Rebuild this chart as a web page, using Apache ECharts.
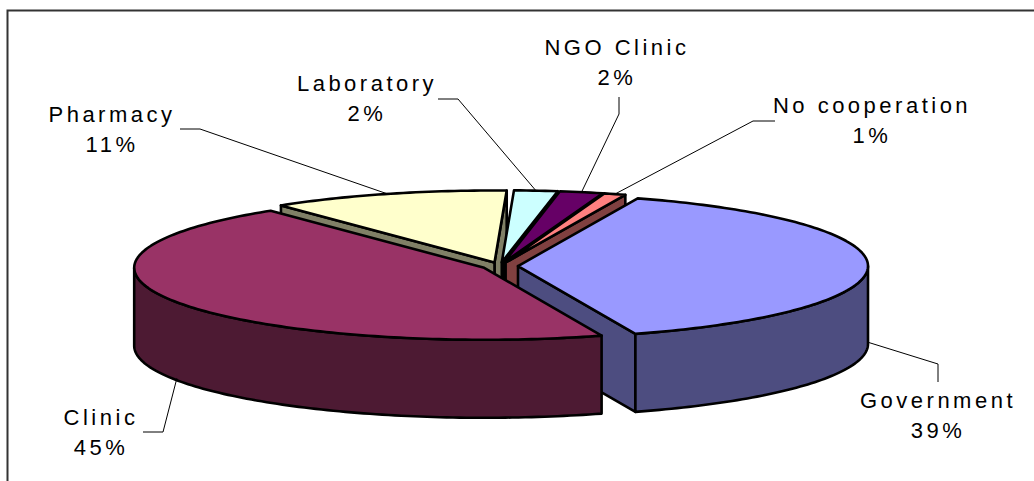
<!DOCTYPE html>
<html>
<head>
<meta charset="utf-8">
<script src="https://cdn.jsdelivr.net/npm/echarts@6/dist/echarts.min.js"></script>
<style>
  html, body { margin: 0; padding: 0; background: #fff; }
  #chart { width: 1034px; height: 481px; }
  #chart text { letter-spacing: 3.5px; }
</style>
</head>
<body>
<div id="chart"></div>
<script>
// Survey shares by partner type (percent)
const categories = ['Government', 'Clinic', 'Pharmacy', 'Laboratory', 'NGO Clinic', 'No cooperation'];
const shares = [39, 45, 11, 2, 2, 1];

// Face colours: top faces and the darker side walls
const topColors  = ['#9999FF', '#993366', '#FFFFCC', '#CCFFFF', '#660066', '#FF8080'];
const sideColors = ['#4D4D80', '#4D1A33', '#808066', '#668080', '#330033', '#804040'];

// Label placement: text centre x / first baseline y, and leader-line bends
const labelPos = [[938, 408], [101, 425], [112, 122], [367, 91], [617, 55], [872, 113]];
const leaderBends = [
  [[938, 364], [938, 382]],
  [[163, 432], [143, 432]],
  [[200, 129], [180, 129]],
  [[458, 99], [438, 99]],
  [[619, 114], [619, 97]],
  [[753, 121], [775, 121]]
];

// Pie geometry
const START_ANGLE = 70;      // first slice starts here (degrees, math convention)
const TILT = 72 / 350;       // vertical squash of the top face
const EXPLODE = 18 / 350;    // radial offset of every slice
const DEPTH = 78;            // thickness in pixels
const OUTLINE = '#000';

// cumulative start/end for each slice
let acc = 0;
const sliceData = shares.map((v, i) => {
  const item = { name: categories[i], value: [acc, acc + v] };
  acc += v;
  return item;
});

// percent positions where the rim reaches the right / left extremes
const pctRight = (START_ANGLE / 360) * 100;
const pctLeft = ((START_ANGLE + 180) / 360) * 100;

function renderSlice(params, api) {
  const i = params.dataIndex;
  const a0 = api.value(0), a1 = api.value(1), mid = (a0 + a1) / 2;
  const c = api.coord([0, a0]);
  const flat = (p) => [p[0], c[1] + (p[1] - c[1]) * TILT];
  const e = flat(api.coord([EXPLODE, mid]));
  const off = [e[0] - c[0], e[1] - c[1]];
  const P = (pct, r, drop) => {
    const q = flat(api.coord([r, pct]));
    return [q[0] + off[0], q[1] + off[1] + (drop || 0)];
  };
  const arc = (from, to, drop) => {
    const n = Math.max(2, Math.ceil(Math.abs(to - from) / 0.3));
    const pts = [];
    for (let k = 0; k <= n; k++) pts.push(P(from + (to - from) * k / n, 1, drop));
    return pts;
  };
  const children = [];
  const faceStyle = (fill) => ({ fill: fill, stroke: OUTLINE, lineWidth: 2.6, lineJoin: 'round' });

  // radial cut walls facing the viewer; nearer walls (lower rim point) paint later
  const wall = (pct) => [P(pct, 0, 0), P(pct, 1, 0), P(pct, 1, DEPTH), P(pct, 0, DEPTH)];
  const wallZ = (pct) => 10 + P(pct, 1)[1] / 100;
  if (P(a0, 1)[0] < c[0] + off[0]) {
    children.push({ type: 'polygon', z2: wallZ(a0), shape: { points: wall(a0) }, style: faceStyle(sideColors[i]) });
  }
  if (P(a1, 1)[0] > c[0] + off[0]) {
    children.push({ type: 'polygon', z2: wallZ(a1), shape: { points: wall(a1) }, style: faceStyle(sideColors[i]) });
  }

  // outer curved wall on the front half
  const f0 = Math.max(a0, pctRight), f1 = Math.min(a1, pctLeft);
  if (f1 > f0) {
    const pts = arc(f0, f1, 0).concat(arc(f1, f0, DEPTH));
    children.push({ type: 'polygon', z2: 20, shape: { points: pts }, style: faceStyle(sideColors[i]) });
  }

  // top face
  const top = [P(a0, 0, 0)].concat(arc(a0, a1, 0));
  children.push({ type: 'polygon', z2: 30, shape: { points: top }, style: faceStyle(topColors[i]) });

  // leader line and label
  const front = mid > pctRight && mid < pctLeft;
  const anchor = P(mid, 1, front ? DEPTH - 2 : 0);
  children.push({
    type: 'polyline', z2: 40,
    shape: { points: [anchor].concat(leaderBends[i]) },
    style: { fill: 'none', stroke: '#000', lineWidth: 1 }
  });
  children.push({
    type: 'text', z2: 40,
    style: {
      text: categories[i] + '\n' + shares[i] + '%',
      x: labelPos[i][0], y: labelPos[i][1] - 23,
      align: 'center', verticalAlign: 'top',
      font: '22px "Liberation Sans", Arial, sans-serif',
      lineHeight: 30, fill: '#000'
    }
  });
  return { type: 'group', children: children };
}

const chart = echarts.init(document.getElementById('chart'), null, { renderer: 'svg' });
chart.setOption({
  animation: false,
  backgroundColor: '#fff',
  polar: { center: [500, 266], radius: 350 },
  angleAxis: { type: 'value', min: 0, max: 100, startAngle: START_ANGLE, clockwise: true, show: false },
  radiusAxis: { type: 'value', min: 0, max: 1, show: false },
  graphic: [{
    type: 'rect', silent: true,
    shape: { x: 7.5, y: 10.5, width: 1200, height: 800 },
    style: { fill: 'none', stroke: '#333', lineWidth: 2 }
  }],
  series: [{
    type: 'custom',
    coordinateSystem: 'polar',
    silent: true,
    renderItem: renderSlice,
    data: sliceData
  }]
});
</script>
</body>
</html>
